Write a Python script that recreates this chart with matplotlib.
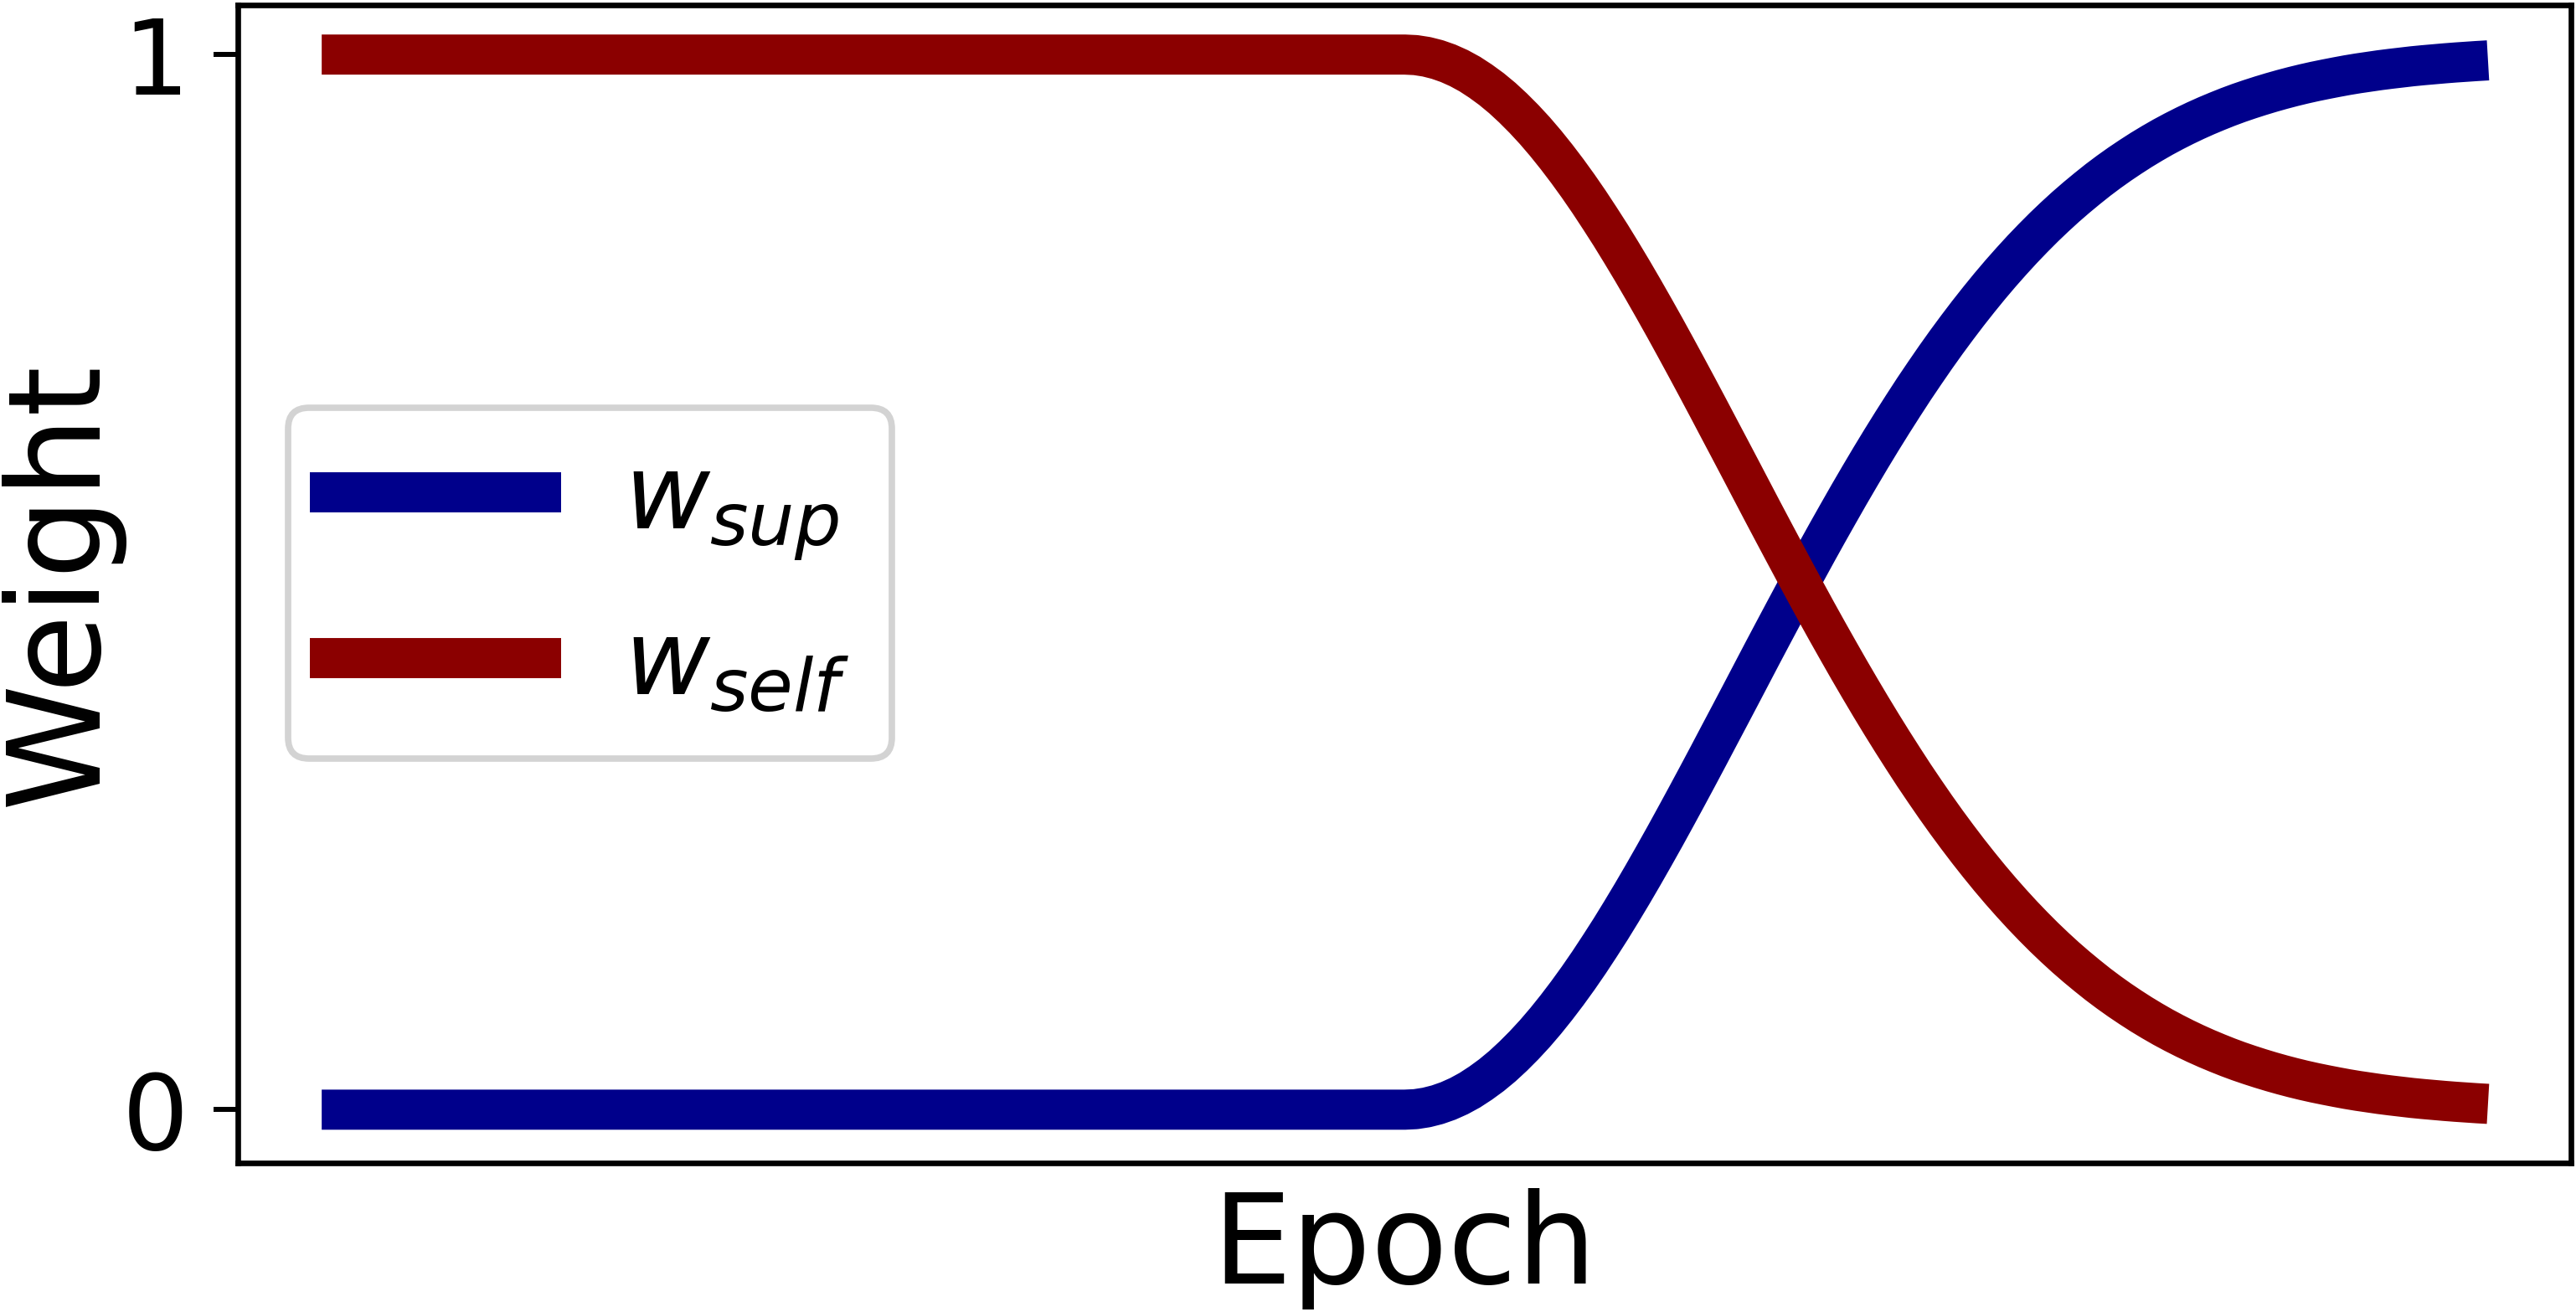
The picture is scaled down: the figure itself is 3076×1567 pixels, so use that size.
import matplotlib
matplotlib.use("Agg")
import matplotlib.pyplot as plt
from matplotlib.lines import Line2D
from matplotlib.legend_handler import HandlerLine2D

# ---- data ----
# epochs: flat until 100, then one reading per epoch up to 200
epoch = [0] + list(range(100, 201))
w_sup = [0.0, 0.0,
         0.0005, 0.0021, 0.0047, 0.0083, 0.0129, 0.0185, 0.0252, 0.0327, 0.0412, 0.0507,
         0.0610, 0.0721, 0.0841, 0.0969, 0.1104, 0.1246, 0.1395, 0.1551, 0.1711, 0.1878,
         0.2049, 0.2225, 0.2405, 0.2588, 0.2775, 0.2964, 0.3155, 0.3348, 0.3543, 0.3737,
         0.3932, 0.4128, 0.4324, 0.4518, 0.4711, 0.4903, 0.5093, 0.5281, 0.5466, 0.5648,
         0.5828, 0.6004, 0.6177, 0.6346, 0.6511, 0.6672, 0.6830, 0.6982, 0.7131, 0.7275,
         0.7414, 0.7549, 0.7679, 0.7805, 0.7926, 0.8042, 0.8154, 0.8261, 0.8364, 0.8462,
         0.8556, 0.8645, 0.8730, 0.8812, 0.8889, 0.8962, 0.9031, 0.9097, 0.9159, 0.9218,
         0.9273, 0.9325, 0.9374, 0.9420, 0.9463, 0.9504, 0.9542, 0.9577, 0.9610, 0.9641,
         0.9670, 0.9697, 0.9722, 0.9745, 0.9766, 0.9786, 0.9805, 0.9822, 0.9837, 0.9852,
         0.9865, 0.9877, 0.9889, 0.9899, 0.9908, 0.9917, 0.9925, 0.9932, 0.9939, 0.9945]
w_self = [1.0, 1.0,
          0.9995, 0.9979, 0.9953, 0.9917, 0.9871, 0.9815, 0.9748, 0.9673, 0.9588, 0.9493,
          0.9390, 0.9279, 0.9159, 0.9031, 0.8896, 0.8754, 0.8605, 0.8449, 0.8289, 0.8122,
          0.7951, 0.7775, 0.7595, 0.7412, 0.7225, 0.7036, 0.6845, 0.6652, 0.6457, 0.6263,
          0.6068, 0.5872, 0.5676, 0.5482, 0.5289, 0.5097, 0.4907, 0.4719, 0.4534, 0.4352,
          0.4172, 0.3996, 0.3823, 0.3654, 0.3489, 0.3328, 0.3170, 0.3018, 0.2869, 0.2725,
          0.2586, 0.2451, 0.2321, 0.2195, 0.2074, 0.1958, 0.1846, 0.1739, 0.1636, 0.1538,
          0.1444, 0.1355, 0.1270, 0.1188, 0.1111, 0.1038, 0.0969, 0.0903, 0.0841, 0.0782,
          0.0727, 0.0675, 0.0626, 0.0580, 0.0537, 0.0496, 0.0458, 0.0423, 0.0390, 0.0359,
          0.0330, 0.0303, 0.0278, 0.0255, 0.0234, 0.0214, 0.0195, 0.0178, 0.0163, 0.0148,
          0.0135, 0.0123, 0.0111, 0.0101, 0.0092, 0.0083, 0.0075, 0.0068, 0.0061, 0.0055]
series_labels = [r"$w_{sup}$", r"$w_{self}$"]
series_colors = ["darkblue", "darkred"]
y_ticks = [0, 1]
y_ticklabels = ["0", "1"]
x_label = "Epoch"
y_label = "Weight"

DPI = 100
fig = plt.figure(figsize=(30.76, 15.67), dpi=DPI)
ax = fig.add_axes([0.0923, 0.1136, 0.9057, 0.8826])

LW = 34.5
ax.plot(epoch, w_sup, color=series_colors[0], lw=LW, solid_capstyle="butt",
        solid_joinstyle="round", label=series_labels[0])
ax.plot(epoch, w_self, color=series_colors[1], lw=LW, solid_capstyle="butt",
        solid_joinstyle="round", label=series_labels[1])

ax.set_xlim(-7.75, 207.65)
ax.set_ylim(-0.0505, 1.047)
ax.set_xticks([])
ax.set_yticks(y_ticks)
ax.set_yticklabels(y_ticklabels)
ax.tick_params(axis="y", labelsize=90, length=21, width=4.3, pad=21)
for sp in ax.spines.values():
    sp.set_linewidth(4.8)

ax.set_xlabel(x_label, fontsize=108)
ax.set_ylabel(y_label, fontsize=110)
ax.xaxis.set_label_coords(0.5, -0.022)
ax.yaxis.set_label_coords(-0.049, 0.5)


class ShiftedLineHandler(HandlerLine2D):
    """Legend line drawn a little further left inside its box."""
    shift = 17.3  # points

    def create_artists(self, legend, orig_handle, xdescent, ydescent, width,
                       height, fontsize, trans):
        return super().create_artists(legend, orig_handle, xdescent + self.shift,
                                      ydescent, width, height, fontsize, trans)


leg = ax.legend(loc="center left", bbox_to_anchor=(0.0215, 0.501), borderaxespad=0,
                fontsize=90, handlelength=2.4, handletextpad=0.41, borderpad=0.4,
                labelspacing=0.5, fancybox=True, framealpha=1,
                handler_map={Line2D: ShiftedLineHandler()})
leg.get_frame().set_edgecolor("#d3d3d3")
leg.get_frame().set_linewidth(5.5)

fig.savefig("out.png", dpi=DPI)
